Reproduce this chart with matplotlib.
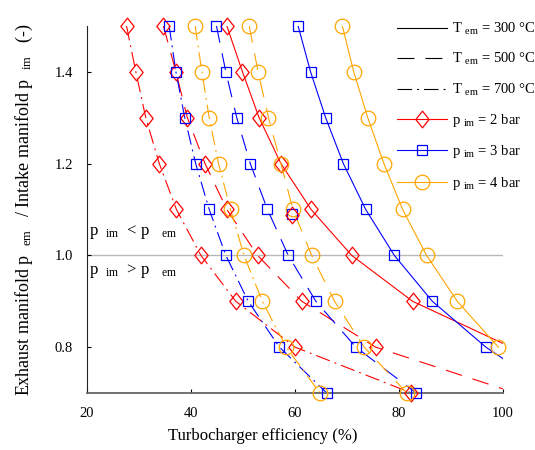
import matplotlib
matplotlib.use('Agg')
import matplotlib.pyplot as plt
from matplotlib.lines import Line2D
from matplotlib.path import Path

plt.rcParams.update({
    'font.family': ['Liberation Serif', 'DejaVu Serif'],
    'mathtext.fontset': 'custom',
    'mathtext.rm': 'Liberation Serif',
    'mathtext.it': 'Liberation Serif:italic',
    'mathtext.bf': 'Liberation Serif:bold',
    'lines.scale_dashes': False,
})

# ---------------- data ----------------
pr_levels = [1.5, 1.4, 1.3, 1.2, 1.1, 1.0, 0.9, 0.8, 0.7]

# turbocharger efficiency (%) at each pressure-ratio level
eff_p2_T300 = [46.9, 49.9, 53.1, 57.3, 63.1, 70.9, 82.6]
eff_p2_T500 = [34.7, 37.1, 39.3, 42.7, 46.9, 52.8, 61.3, 75.5]
eff_p2_T700 = [27.6, 29.4, 31.3, 33.9, 37.2, 41.9, 48.6, 60.0, 82.4]

eff_p3_T300 = [60.6, 63.0, 65.9, 69.3, 73.6, 79.1, 86.4, 96.7]
eff_p3_T500 = [44.9, 46.7, 48.8, 51.4, 54.7, 58.7, 64.0, 71.7, 83.3]
eff_p3_T700 = [35.8, 37.1, 38.8, 40.9, 43.5, 46.7, 51.0, 57.0, 66.1]

eff_p4_T300 = [69.1, 71.3, 74.0, 77.1, 80.7, 85.3, 91.2, 99.1]
eff_p4_T500 = [51.2, 52.9, 54.9, 57.3, 59.6, 63.2, 67.6, 73.3, 81.5]
eff_p4_T700 = [40.8, 42.1, 43.5, 45.3, 47.6, 50.2, 53.7, 58.3, 64.8]

# curve ends at the right border (efficiency, ratio)
tail_p2_T300 = [100.0, 0.808]
tail_p2_T500 = [100.0, 0.709]
tail_p3_T300 = [100.0, 0.775]

# isolated markers
extra_blue = [59.4, 1.091]
extra_red = [59.5, 1.088]

temps = ['300', '500', '700']
pressures = ['2', '3', '4']
# ---------------------------------------

red, blue, orange = '#ff0000', '#0000ff', '#ffa500'
ls_solid = '-'
ls_dash = (0, (12.2, 7.9))
ls_dashdot = (0, (10.5, 3.6, 1.4, 3.6))

diamond = Path([(0, 1), (0.8, 0), (0, -1), (-0.8, 0), (0, 1)],
               [Path.MOVETO, Path.LINETO, Path.LINETO, Path.LINETO, Path.CLOSEPOLY])

mk = {
    '2': dict(marker=diamond, markersize=12, color=red),
    '3': dict(marker='s', markersize=7.5, color=blue),
    '4': dict(marker='o', markersize=10.5, color=orange),
}
lstyles = {'300': ls_solid, '500': ls_dash, '700': ls_dashdot}

curves = [
    ('2', '300', eff_p2_T300, tail_p2_T300),
    ('2', '500', eff_p2_T500, tail_p2_T500),
    ('2', '700', eff_p2_T700, None),
    ('3', '300', eff_p3_T300, tail_p3_T300),
    ('3', '500', eff_p3_T500, None),
    ('3', '700', eff_p3_T700, None),
    ('4', '300', eff_p4_T300, None),
    ('4', '500', eff_p4_T500, None),
    ('4', '700', eff_p4_T700, None),
]

fig = plt.figure(figsize=(5.35, 4.5), dpi=100)
ax = fig.add_axes([87/535, 1-393/450, 416/535, 367/450])

ax.axhline(1.0, color='#b8b8b8', lw=1.0, zorder=1)

for p, T, eff, tail in curves:
    ys = pr_levels[:len(eff)]
    lx = list(eff)
    ly = list(ys)
    if tail is not None:
        lx.append(tail[0])
        ly.append(tail[1])
    ax.plot(lx, ly, linestyle=lstyles[T], color=mk[p]['color'], lw=0.8, zorder=2)
    ax.plot(eff, ys, linestyle='none', marker=mk[p]['marker'],
            markersize=mk[p]['markersize'], markerfacecolor='none',
            markeredgecolor=mk[p]['color'], markeredgewidth=0.9,
            clip_on=False, zorder=3)

ax.plot([extra_blue[0]], [extra_blue[1]], linestyle='none', marker='s', markersize=7.5,
        markerfacecolor='none', markeredgecolor=blue, markeredgewidth=0.9, zorder=3)
ax.plot([extra_red[0]], [extra_red[1]], linestyle='none', marker=diamond, markersize=12,
        markerfacecolor='none', markeredgecolor=red, markeredgewidth=0.9, zorder=3)

ax.set_xlim(20, 100)
ax.set_ylim(0.7, 1.5)
ax.set_xticks([20, 40, 60, 80, 100])
ax.set_yticks([0.8, 1.0, 1.2, 1.4])
ax.set_yticklabels(['0.8', '1.0', '1.2', '1.4'])
ax.tick_params(direction='in', length=3, width=0.8, labelsize=10.5, pad=10)
for s in ['top', 'right']:
    ax.spines[s].set_visible(False)
ax.spines['left'].set_color('#222222')
ax.spines['bottom'].set_color('#666666')
ax.spines['bottom'].set_linewidth(1.3)

ax.set_xlabel('Turbocharger efficiency (%)', fontsize=12)
ax.xaxis.set_label_coords(0.423, -0.095)
ax.set_ylabel(r'Exhaust manifold p  $_{\mathrm{em}}$   / Intake manifold p  $_{\mathrm{im}}$   (-)',
              fontsize=13)
ax.yaxis.set_label_coords(-0.125, 0.5)

ax.text(20.4, 1.045, r'p  $_{\mathrm{im}}$  < p   $_{\mathrm{em}}$', fontsize=12,
        ha='left', va='baseline')
ax.text(20.4, 0.96, r'p  $_{\mathrm{im}}$  > p   $_{\mathrm{em}}$', fontsize=12,
        ha='left', va='baseline')

handles = []
labels = []
for T in temps:
    handles.append(Line2D([], [], color='black', lw=0.8, linestyle=lstyles[T]))
    labels.append('T $_{\\mathrm{em}}$ = %s °C' % T)
for p in pressures:
    handles.append(Line2D([], [], color=mk[p]['color'], lw=0.8, marker=mk[p]['marker'],
                          markersize=mk[p]['markersize'], markerfacecolor='none',
                          markeredgecolor=mk[p]['color'], markeredgewidth=0.9))
    labels.append('p $_{\\mathrm{im}}$ = %s bar' % p)

leg = ax.legend(handles, labels, loc='upper left', bbox_to_anchor=(0.745, 1.014),
                frameon=False, fontsize=10.5, handlelength=3.45, handletextpad=0.3,
                labelspacing=0.98, borderpad=0, borderaxespad=0, numpoints=1)

fig.savefig('out.png', dpi=100)
